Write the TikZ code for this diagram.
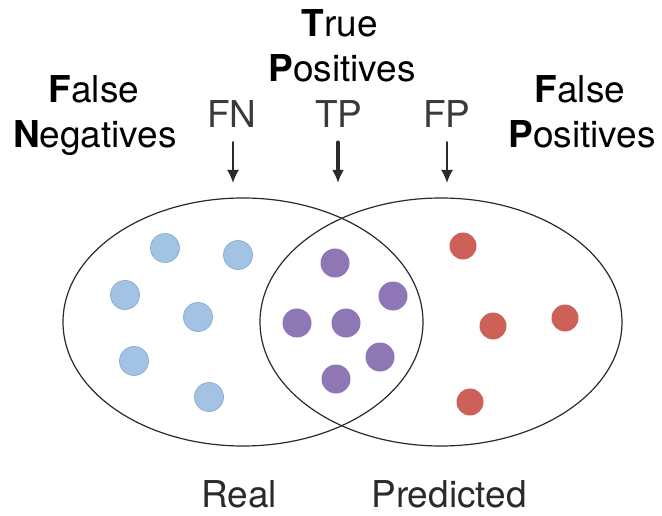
\documentclass[tikz,border=0pt]{standalone}
\usepackage{fontspec}
\setmainfont{TeX Gyre Heros}
\usetikzlibrary{arrows.meta}
\definecolor{azul}{HTML}{A3C3E4}
\definecolor{azulborde}{HTML}{86ABD4}
\definecolor{morado}{HTML}{8F76B4}
\definecolor{rojo}{HTML}{CE605A}
\definecolor{tinta}{HTML}{2A2A2A}
\definecolor{gris}{HTML}{3A3A3A}

\tikzset{
  etiqueta/.style={anchor=base,inner sep=0pt,font=\fontsize{37}{45}\selectfont},
  sigla/.style={etiqueta,text=gris},
  flecha/.style={-{Latex[length=13pt,width=12pt]},line width=2pt,tinta},
  conjunto/.style={tinta,line width=1.2pt},
}

\begin{document}
\begin{tikzpicture}[x=1pt,y=-1pt,line cap=round]
        \useasboundingbox (0,0) rectangle (662,516);
        % --- conjuntos: real e predicho ---
        \draw[conjunto] (243,322) ellipse [x radius=180pt,y radius=124pt];
        \draw[conjunto] (441,322) ellipse [x radius=181pt,y radius=124pt];
        % --- puntos ---
        \foreach \x/\y in {165/248,238/255,125/295,198/317,134/361,209/397}{
          \fill[azul,draw=azulborde,line width=0.7pt] (\x,\y) circle (14.5pt);
        }
        \foreach \x/\y in {335/263,393/296,297/323,346/323,380/357,336/379}{
          \fill[morado] (\x,\y) circle (14.5pt);
        }
        \foreach \x/\y in {463/246,493/326,565/318,470/402}{
          \fill[rojo] (\x,\y) circle (13.5pt);
        }
        % --- titulos ---
        \node[etiqueta] (tpUno) at (340,37) {\textbf{T}rue};
        \node[etiqueta] (tpDos) at (342,82) {\textbf{P}ositives};
        \node[etiqueta] (fnUno) at (94,103) {\textbf{F}alse};
        \node[etiqueta] (fnDos) at (95,148) {\textbf{N}egatives};
        \node[etiqueta] (fpUno) at (580,103) {\textbf{F}alse};
        \node[etiqueta] (fpDos) at (582,148) {\textbf{P}ositives};
        % --- siglas y flechas ---
        \node[sigla] (fn) at (232,128) {FN};
        \node[sigla] (tp) at (339,128) {TP};
        \node[sigla] (fp) at (447,128) {FP};
        \coordinate (fnPunta) at (233,183);
        \coordinate (tpPunta) at (338,183);
        \coordinate (fpPunta) at (447,183);
        \draw[flecha] (fn.south -| fnPunta) ++(0,14) -- (fnPunta);
        \draw[flecha,line width=3.4pt] (tp.south -| tpPunta) ++(0,14) -- (tpPunta);
        \draw[flecha] (fp.south -| fpPunta) ++(0,14) -- (fpPunta);
        % --- nombres de los conjuntos ---
        \node[etiqueta,text=tinta] (real) at (239,507) {Real};
        \node[etiqueta,text=tinta] (pred) at (449,507) {Predicted};
\end{tikzpicture}
\end{document}
